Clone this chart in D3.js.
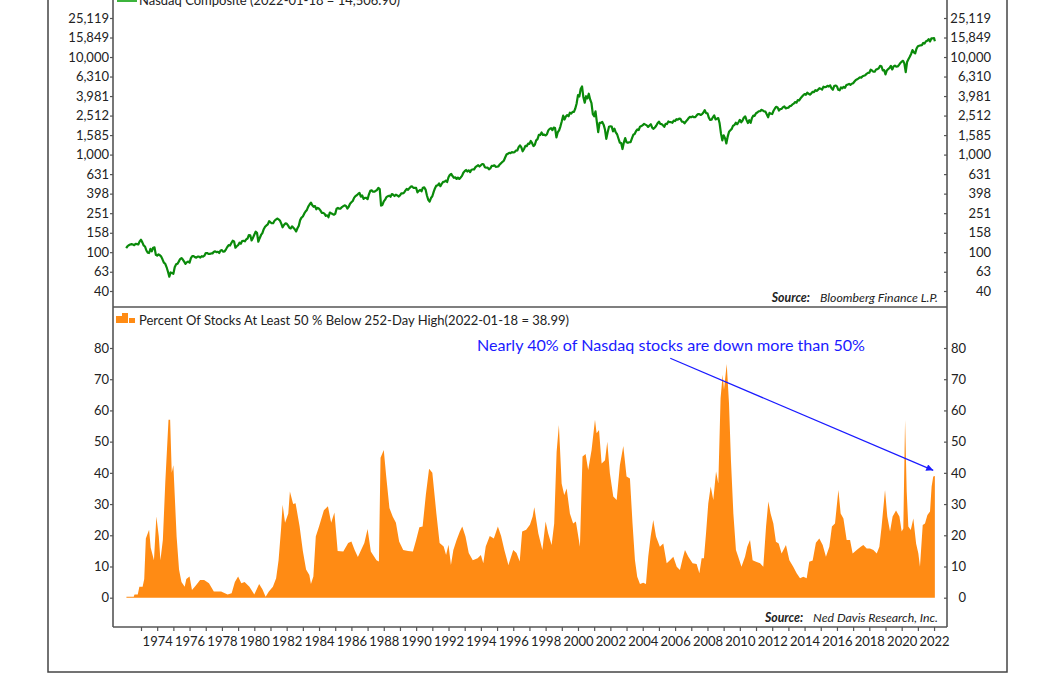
<!DOCTYPE html>
<html><head><meta charset="utf-8">
<script src="https://cdn.jsdelivr.net/npm/d3@7"></script>
<style>
html,body{margin:0;padding:0;background:#fff;}
svg{display:block;font-family:Lato,"Open Sans",sans-serif;}
</style></head>
<body>
<svg id="chart" width="1056" height="675"></svg>
<script>
// ---------------- DATA ----------------
const nasdaqStartYear = 1972; // month-end values, Jan 1972 onward
const nasdaqMonthly = [
 110,115,118,120,121,120,118,122,121,120,129,134,
 126,117,114,104,99,98,108,102,111,112,94,92,
 95,93,90,84,78,76,70,63,56,62,61,60,
 70,75,76,80,85,87,84,80,76,79,80,78,
 87,91,91,89,88,90,90,88,91,90,92,98,
 98,96,96,97,97,101,102,100,101,98,104,105,
 101,102,107,113,118,117,124,131,129,111,115,118,
 125,122,130,131,129,135,138,150,149,132,140,151,
 162,158,128,139,150,157,172,182,188,193,208,202,
 198,198,210,216,221,217,211,196,180,190,197,196,
 188,178,175,184,178,172,163,176,187,213,226,232,
 248,261,271,293,308,322,303,292,297,275,285,279,
 268,253,253,248,236,239,228,255,250,246,242,247,
 279,284,279,280,290,296,302,298,280,292,314,325,
 335,360,375,383,395,405,371,382,351,361,360,349,
 392,425,430,417,416,425,434,455,444,300,305,331,
 345,367,374,379,370,394,387,376,388,382,372,381,
 401,400,406,428,446,435,453,469,472,456,456,455,
 410,425,435,420,458,462,438,381,344,329,359,374,
 415,453,482,484,506,475,502,525,527,542,523,586,
 620,633,603,578,585,563,581,563,583,605,652,677,
 696,671,690,661,700,704,705,743,763,779,754,777,
 800,793,743,733,736,706,723,765,764,777,750,752,
 756,793,817,843,865,933,1001,1020,1044,1036,1059,1052,
 1060,1100,1101,1191,1243,1185,1081,1141,1227,1222,1293,1291,
 1380,1309,1222,1261,1400,1442,1594,1587,1686,1594,1601,1570,
 1619,1771,1835,1868,1779,1895,1872,1499,1694,1771,1950,2193,
 2506,2288,2461,2543,2471,2686,2638,2739,2746,2966,3336,4069,
 3940,4697,5000,3861,3401,3966,3767,4206,3673,3370,2598,2471,
 2773,2152,1700,2116,2110,2161,2027,1805,1450,1690,1931,1950,
 1934,1731,1845,1688,1616,1463,1328,1315,1140,1330,1479,1336,
 1321,1338,1341,1464,1596,1623,1735,1810,1787,1932,1960,2003,
 2066,2030,1994,1920,1987,2048,1887,1838,1897,1975,2097,2175,
 2062,2052,1999,1922,2068,2057,2185,2152,2152,2120,2233,2205,
 2306,2281,2340,2323,2179,2172,2091,2184,2258,2367,2432,2415,
 2464,2416,2422,2525,2605,2603,2546,2596,2702,2859,2661,2652,
 2390,2271,2279,2413,2523,2293,2326,2368,2092,1650,1400,1577,
 1476,1300,1529,1717,1774,1835,1979,2009,2122,2045,2145,2269,
 2147,2238,2398,2461,2257,2109,2255,2114,2369,2507,2498,2653,
 2700,2782,2781,2874,2835,2774,2756,2580,2415,2684,2620,2605,
 2814,2967,3092,3046,2827,2935,2940,3067,3116,2977,3010,3020,
 3142,3160,3268,3329,3456,3403,3626,3590,3771,3920,4060,4177,
 4104,4308,4199,4115,4243,4408,4370,4580,4493,4631,4792,4736,
 4635,4964,4901,4941,5070,4987,5128,4777,4620,5054,5109,5007,
 4614,4558,4870,4775,4948,4843,5162,5213,5312,5189,5324,5383,
 5615,5825,5912,6048,6199,6140,6348,6429,6496,6728,6874,6903,
 7411,7273,7063,7066,7442,7510,7672,8110,8046,7306,7331,6635,
 7282,7533,7729,8095,7453,8006,8175,7963,7999,8292,8665,8973,
 9151,8567,7000,8890,9490,10059,10745,11775,11168,10912,12199,12888,
 13070,13192,13247,13963,13749,14504,14673,15259,14449,15498,15538,15645
];
const nasdaqLastDate = 2022.05, nasdaqLastValue = 14506.90;

// Percent of stocks at least 50% below 252-day high (decimal year, %)
const pctDates = [
 1972.10,1972.55,1972.60,1972.80,1972.90,1973.10,1973.20,1973.30,1973.50,1973.60,1973.80,1973.95,
 1974.10,1974.20,1974.35,1974.50,1974.70,1974.80,1974.90,1975.00,1975.20,1975.35,1975.50,1975.70,
 1975.80,1976.00,1976.15,1976.40,1976.65,1976.90,1977.20,1977.50,1977.95,1978.35,1978.60,1978.80,
 1979.00,1979.20,1979.40,1979.70,1980.00,1980.30,1980.50,1980.70,1980.90,1981.15,1981.35,1981.50,
 1981.65,1981.75,1981.90,1982.10,1982.20,1982.40,1982.55,1982.80,1983.00,1983.20,1983.40,1983.50,
 1983.65,1983.80,1984.00,1984.30,1984.55,1984.75,1984.95,1985.15,1985.50,1985.80,1986.00,1986.20,
 1986.40,1986.60,1986.80,1987.00,1987.20,1987.55,1987.70,1987.80,1988.00,1988.15,1988.35,1988.55,
 1988.75,1988.95,1989.20,1989.50,1989.80,1990.00,1990.20,1990.40,1990.60,1990.80,1991.00,1991.25,
 1991.45,1991.70,1991.85,1992.00,1992.15,1992.30,1992.50,1992.70,1992.85,1993.05,1993.25,1993.50,
 1993.80,1994.00,1994.15,1994.30,1994.55,1994.80,1995.05,1995.25,1995.45,1995.70,1996.00,1996.20,
 1996.40,1996.55,1996.80,1997.03,1997.20,1997.30,1997.55,1997.80,1998.00,1998.16,1998.37,1998.53,
 1998.68,1998.82,1998.99,1999.15,1999.30,1999.50,1999.70,1999.87,2000.12,2000.28,2000.47,2000.63,
 2000.84,2001.05,2001.15,2001.30,2001.46,2001.67,2001.81,2001.97,2002.18,2002.39,2002.59,2002.80,
 2003.00,2003.21,2003.37,2003.52,2003.66,2003.83,2004.03,2004.20,2004.34,2004.49,2004.65,2004.82,
 2005.06,2005.27,2005.48,2005.68,2005.89,2006.10,2006.30,2006.47,2006.61,2006.82,2007.08,2007.33,
 2007.50,2007.64,2007.78,2007.91,2008.05,2008.20,2008.36,2008.53,2008.67,2008.81,2008.94,2009.02,
 2009.19,2009.33,2009.45,2009.60,2009.76,2009.90,2010.10,2010.32,2010.46,2010.63,2010.79,2011.00,
 2011.25,2011.45,2011.62,2011.76,2011.90,2012.07,2012.23,2012.40,2012.58,2012.85,2013.06,2013.30,
 2013.51,2013.72,2013.92,2014.13,2014.29,2014.50,2014.70,2014.91,2015.12,2015.32,2015.53,2015.69,
 2015.88,2016.09,2016.23,2016.40,2016.60,2016.81,2016.97,2017.22,2017.47,2017.63,2017.84,2018.04,
 2018.25,2018.46,2018.62,2018.76,2018.97,2019.11,2019.28,2019.44,2019.65,2019.86,2020.00,2020.10,
 2020.21,2020.31,2020.41,2020.56,2020.72,2020.89,2021.03,2021.13,2021.30,2021.44,2021.59,2021.75,
 2021.85,2021.95,2022.05
];
const pctValues = [
 0.3,0.3,1,1,3.5,3.5,6,19,21.8,16,12,26,
 19.6,12,18.5,36.8,57,57,40,42.4,19.6,9,5,3.5,
 6,6.8,2.5,4,5.7,5.7,4.6,2,2,1,1.4,5,
 6.8,4.6,5,3.5,1,4.4,2.7,0.3,2,3.5,6.2,12,
 21.8,29.8,24,27,34,30,30.3,22.8,15,9,7.3,4.4,
 6.8,19.6,22.8,28,29.3,24,27.3,15,14.8,17.5,18,15.3,
 13,15.3,17.5,22,14.8,12,11.6,44.8,47.3,38.9,28.7,26,
 24,18,15.3,15,14.8,18.5,22.6,22.8,33,41.3,40,27,
 17.5,16.4,13.7,17,10.5,15.3,18.5,21.2,22.8,19.6,14.3,12,
 12.6,13.7,11,16.4,19.8,19,22.8,19.8,15.3,10.5,15.3,14.3,
 11.6,21.2,21.8,23.4,26,29,20.6,15.3,24.4,20.6,16.9,23.8,
 46.8,55.3,36.6,32.9,35,27,23.8,24.4,16.3,45.2,46,40.9,
 47.3,57,52.7,53.7,43,44,50,39.9,32.4,31.3,42.5,48.6,
 38.8,38.2,23.8,12,6.7,4.4,4.8,4.4,13.1,19.6,24.9,19.6,
 16.3,17.4,11,12,13.1,9.9,8.9,12.6,15.3,13.1,11,10.8,
 7.8,12.6,12.6,20.6,30.2,35.6,31.3,40.4,36.6,63.9,71.4,66.6,
 74.9,62.3,44.1,27,15.3,13.1,9.9,13.1,16.3,18.5,12,11.5,
 11,9.9,22.8,30.8,27,23.8,17.9,17.4,14.2,16.9,12,9.9,
 7.8,6.2,6.7,6.2,11.5,11.9,17.6,19,16.9,13.1,16.3,22.8,
 23.8,34.5,27,25.4,18.5,18.5,14.2,15.3,16.3,16.9,15.8,15.8,
 15.3,14.2,16.3,22.8,34.5,26,21.2,26,27.9,26,21.2,22.2,
 56.9,34,22.8,21.7,25.4,17.4,14.2,9.9,23.3,23.8,26.5,27.6,
 35.6,38.8,38.99
];

const nasdaqTicks = [40,63,100,158,251,398,631,1000,1585,2512,3981,6310,10000,15849,25119];
const pctTicks = [0,10,20,30,40,50,60,70,80];
const yearTicks = d3.range(1973, 2023);
const labelEvery = 2;
const nasdaqLegend = "Nasdaq Composite (2022-01-18 = 14,506.90)";
const pctLegend = "Percent Of Stocks At Least 50 % Below 252-Day High(2022-01-18 = 38.99)";
const annotationText = "Nearly 40% of Nasdaq stocks are down more than 50%";
const annotationFrom = [2005.7, 76.7];   // [year, %]
const annotationTo = [2021.95, 40.8];
const sourceTop = "Bloomberg Finance L.P.";
const sourceBottom = "Ned Davis Research, Inc.";

// ---------------- LAYOUT ----------------
const L = 113, R = 947;
const topTop = -20, topBottom = 307, botBottom = 627;
const axisCol = "#555", textCol = "#222";
const green = "#0a8a0a", orange = "#ff8b14", blue = "#1a1aff";

const svg = d3.select("#chart");

const x = d3.scaleLinear().domain([1971.27, 2022.8]).range([L, R]);
const yTop = d3.scaleLog().domain([40, 25119]).range([291, 18]);
const yBot = d3.scaleLinear().domain([0, 80]).range([597.7, 348]);

// outer frame
svg.append("rect").attr("x", 48).attr("y", -20).attr("width", 959).attr("height", 692)
  .attr("fill", "none").attr("stroke", "#444").attr("stroke-width", 1.5);

// ---- bottom area
const pct = pctDates.map((d, i) => [d, pctValues[i]]);
svg.append("path").datum(pct)
  .attr("fill", orange)
  .attr("d", d3.area().x(d => x(d[0])).y0(yBot(0)).y1(d => yBot(d[1])));

// ---- nasdaq line
const nas = nasdaqMonthly.map((v, i) => [nasdaqStartYear + (i + 1) / 12, v]);
nas.push([nasdaqLastDate, nasdaqLastValue]);
svg.append("path").datum(nas)
  .attr("fill", "none").attr("stroke", green).attr("stroke-width", 2.2)
  .attr("stroke-linejoin", "round")
  .attr("d", d3.line().x(d => x(d[0])).y(d => yTop(d[1])));

// ---- axes
const fmt = d3.format(",");
function styleAxis(g) {
  g.select(".domain").remove();
  g.selectAll("line").attr("stroke", axisCol).attr("stroke-width", 1.2);
  g.selectAll("text").attr("fill", textCol).attr("font-size", 13).attr("font-family", "Lato");
}
svg.append("g").attr("transform", `translate(${L},0)`)
  .call(d3.axisLeft(yTop).tickValues(nasdaqTicks).tickFormat(fmt).tickSize(3).tickPadding(1))
  .call(styleAxis);
svg.append("g").attr("transform", `translate(${R},0)`)
  .call(d3.axisRight(yTop).tickValues(nasdaqTicks).tickFormat(fmt).tickSize(-3).tickPadding(3))
  .call(styleAxis)
  .call(g => g.selectAll("text").attr("text-anchor", "end").attr("x", 44));
svg.append("g").attr("transform", `translate(${L},0)`)
  .call(d3.axisLeft(yBot).tickValues(pctTicks).tickSize(3).tickPadding(1))
  .call(styleAxis);
svg.append("g").attr("transform", `translate(${R},0)`)
  .call(d3.axisRight(yBot).tickValues(pctTicks).tickSize(-3).tickPadding(3))
  .call(styleAxis)
  .call(g => g.selectAll("text").attr("text-anchor", "end").attr("x", 19));
svg.append("g").attr("transform", `translate(0,${botBottom})`)
  .call(d3.axisBottom(x).tickValues(yearTicks).tickSize(4).tickPadding(6)
    .tickFormat(d => (d % labelEvery === 0 ? String(d) : "")))
  .call(styleAxis);

// panel lines
const lines = [[L, topTop, L, botBottom], [R, topTop, R, botBottom], [L, topBottom, R, topBottom], [L, botBottom, R, botBottom]];
svg.selectAll("line.frame").data(lines).enter().append("line").attr("class", "frame")
  .attr("x1", d => d[0]).attr("y1", d => d[1]).attr("x2", d => d[2]).attr("y2", d => d[3])
  .attr("stroke", axisCol).attr("stroke-width", 1.6);

// ---- legends
svg.append("line").attr("x1", 117).attr("x2", 137).attr("y1", 1).attr("y2", 1)
  .attr("stroke", "#3cb43c").attr("stroke-width", 2);
svg.append("text").attr("x", 139).attr("y", 5).attr("font-size", 13).attr("fill", textCol).text(nasdaqLegend);

const icon = [[116, 7], [122, 10], [129, 5]];
svg.selectAll("rect.icon").data(icon).enter().append("rect").attr("class", "icon")
  .attr("x", d => d[0]).attr("y", d => 323 - d[1]).attr("width", 6).attr("height", d => d[1]).attr("fill", orange);
svg.append("text").attr("x", 139).attr("y", 325).attr("font-size", 13).attr("fill", textCol).text(pctLegend);

// ---- sources
function source(yPos, name) {
  const t = svg.append("text").attr("x", 938).attr("y", yPos).attr("text-anchor", "end")
    .attr("font-size", 12.3).attr("font-style", "italic").attr("fill", textCol);
  t.append("tspan").attr("font-weight", "bold").text("Source:");
  t.append("tspan").attr("dx", 10).text(name);
}
source(302, sourceTop);
source(622, sourceBottom);

// ---- annotation
svg.append("text").attr("x", 671).attr("y", 351).attr("text-anchor", "middle")
  .attr("font-size", 16.1).attr("fill", blue).text(annotationText);
svg.append("defs").append("marker").attr("id", "arr").attr("viewBox", "0 0 10 10")
  .attr("refX", 10).attr("refY", 5).attr("markerWidth", 9).attr("markerHeight", 7)
  .attr("markerUnits", "userSpaceOnUse").attr("orient", "auto")
  .append("path").attr("d", "M0,0L10,5L0,10z").attr("fill", blue);
svg.append("line")
  .attr("x1", x(annotationFrom[0])).attr("y1", yBot(annotationFrom[1]))
  .attr("x2", x(annotationTo[0])).attr("y2", yBot(annotationTo[1]))
  .attr("stroke", blue).attr("stroke-width", 1.2).attr("marker-end", "url(#arr)");
</script>
</body></html>
